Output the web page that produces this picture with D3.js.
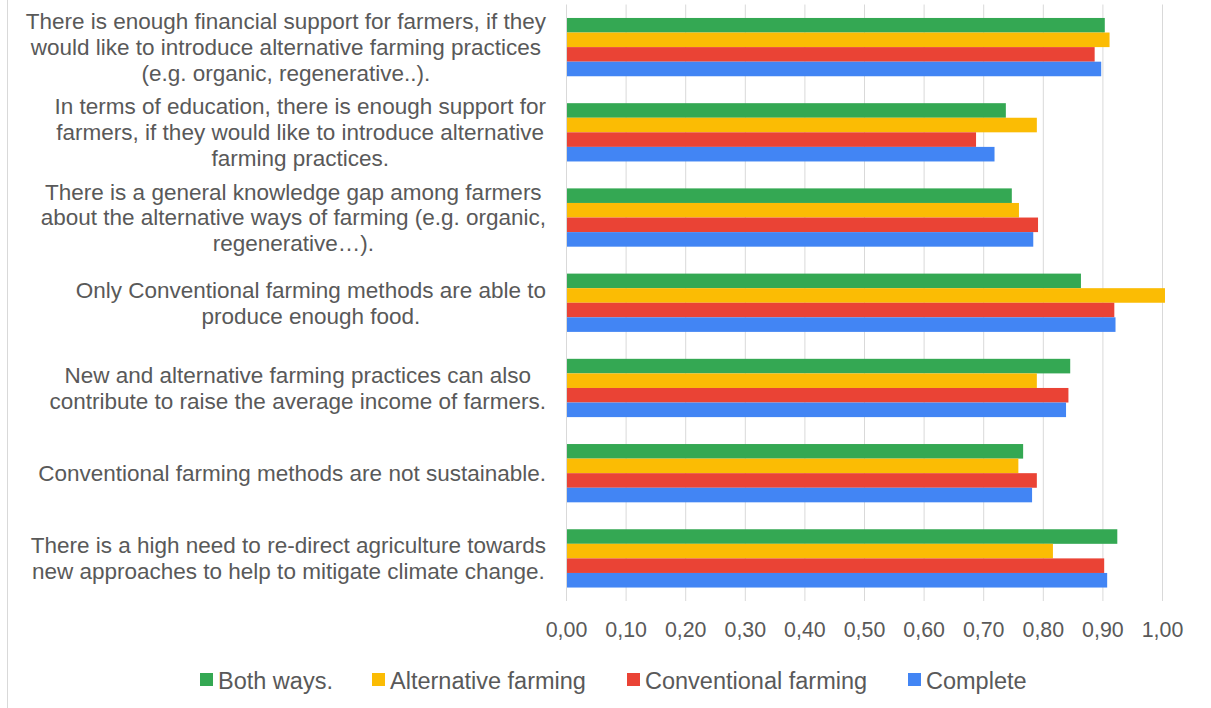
<!DOCTYPE html>
<html><head><meta charset="utf-8">
<script src="https://cdn.jsdelivr.net/npm/d3@7/dist/d3.min.js"></script>
<style>body{margin:0;background:#fff}svg{display:block}text{font-family:"Liberation Sans",Arial,sans-serif;fill:#595959}</style>
</head><body><svg id="c" width="1211" height="708"></svg>
<script>
const categories = [
  ["There is enough financial support for farmers, if they","would like to introduce alternative farming practices","(e.g. organic, regenerative..)."],
  ["In terms of education, there is enough support for","farmers, if they would like to introduce alternative","farming practices."],
  ["There is a general knowledge gap among farmers","about the alternative ways of farming (e.g. organic,","regenerative…)."],
  ["Only Conventional farming methods are able to","produce enough food."],
  ["New and alternative farming practices can also","contribute to raise the average income of farmers."],
  ["Conventional farming methods are not sustainable."],
  ["There is a high need to re-direct agriculture towards","new approaches to help to mitigate climate change."]
];
const seriesNames = ["Both ways.","Alternative farming","Conventional farming","Complete"];
const bothWays     = [0.904,0.738,0.748,0.864,0.846,0.767,0.925];
const alternative  = [0.912,0.790,0.760,1.005,0.790,0.759,0.817];
const conventional = [0.887,0.688,0.792,0.920,0.843,0.790,0.903];
const complete     = [0.898,0.719,0.784,0.922,0.839,0.782,0.908];
const tickValues = [0,0.1,0.2,0.3,0.4,0.5,0.6,0.7,0.8,0.9,1.0];
const colors = ["#34A853","#FBBC04","#EA4335","#4285F4"];
const seriesValues = [bothWays, alternative, conventional, complete];

const svg = d3.select("#c");
const x = d3.scaleLinear().domain([0,1]).range([566,1162]);
const y = d3.scaleBand().domain(d3.range(categories.length)).range([4.5,601]).paddingInner(0.316).paddingOuter(0.158);
const y1 = d3.scaleBand().domain(d3.range(seriesNames.length)).range([0,y.bandwidth()]);

// border
svg.append("line").attr("x1",7.5).attr("x2",7.5).attr("y1",0).attr("y2",708).attr("stroke","#d9d9d9");

// grid
svg.append("g").selectAll("line").data(tickValues).join("line")
  .attr("x1",d=>x(d)+0.5).attr("x2",d=>x(d)+0.5).attr("y1",4.5).attr("y2",601)
  .attr("stroke","#d9d9d9").attr("stroke-width",1);

// axis
const ax = svg.append("g").attr("transform","translate(0,601)")
  .call(d3.axisBottom(x).tickValues(tickValues).tickSize(0).tickPadding(21)
    .tickFormat(d=>d3.format(".2f")(d).replace(".",",")));
ax.select(".domain").remove();
ax.selectAll("text").style("font-size","21.4px").attr("fill","#595959");

// bars
const g = svg.append("g").selectAll("g").data(categories).join("g")
  .attr("transform",(d,i)=>`translate(0,${y(i)})`);
g.selectAll("rect").data((d,i)=>seriesValues.map((s,j)=>({j,v:s[i]}))).join("rect")
  .attr("x",x(0)+1).attr("y",d=>y1(d.j)).attr("height",y1.bandwidth())
  .attr("width",d=>x(d.v)-x(0)-1).attr("fill",d=>colors[d.j]);

// category labels
const lh = 25.8, right = 546;
categories.forEach((lines,i)=>{
  const cy = y(i)+y.bandwidth()/2;
  const tg = svg.append("g");
  const ts = lines.map((l,k)=>tg.append("text").text(l).style("font-size","22.5px")
    .attr("dy","0.35em").attr("y",cy+(k-(lines.length-1)/2)*lh));
  const w = d3.max(ts,t=>t.node().getComputedTextLength());
  ts.forEach(t=>t.attr("text-anchor","middle").attr("x",right-w/2));
});

// legend
const legX = [200,372,627,908];
const lg = svg.append("g");
seriesNames.forEach((n,j)=>{
  lg.append("rect").attr("x",legX[j]).attr("y",673).attr("width",13).attr("height",13).attr("fill",colors[j]);
  lg.append("text").attr("x",legX[j]+18).attr("y",681).attr("dy","0.35em").text(n).style("font-size","23.5px");
});
</script></body></html>
